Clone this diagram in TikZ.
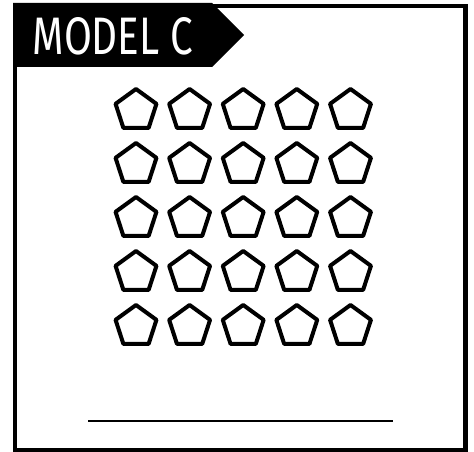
\documentclass[tikz,border=0pt]{standalone}
\usepackage{fontspec}
\setsansfont{Fira Sans}
\usetikzlibrary{shapes.geometric}
\tikzset{
  framebox/.style={draw=black, line width=4.5pt},
  penta/.style={regular polygon, regular polygon sides=5, draw=black, line width=4pt,
    line join=round, minimum size=43pt, inner sep=0pt},
  blank/.style={draw=black, line width=1.6pt}
}
\begin{document}
\begin{tikzpicture}[x=1pt,y=-1pt]
\useasboundingbox (0,0) rectangle (474,452);
\fill[white] (0,0) rectangle (474,452);
\draw[framebox] (15,6) rectangle (465.5,450);
\fill[black] (13,3) -- (212,3) -- (244,35) -- (212,67) -- (13,67) -- cycle;
\node[text=white, inner sep=0pt] (title) at (113,36.5)
  {\resizebox{160pt}{37pt}{\sffamily MODEL C}};
\foreach \r [count=\i] in {110.5,164.5,218.5,272.5,326.5}{
  \foreach \c [count=\j] in {136,189.6,243.2,296.8,350.5}{
    \node[penta] (p\i\j) at (\c,\r) {};
  }
}
\coordinate (la) at (88,421);
\coordinate (lb) at (393,421);
\draw[blank] (la) -- (lb);
\end{tikzpicture}
\end{document}
